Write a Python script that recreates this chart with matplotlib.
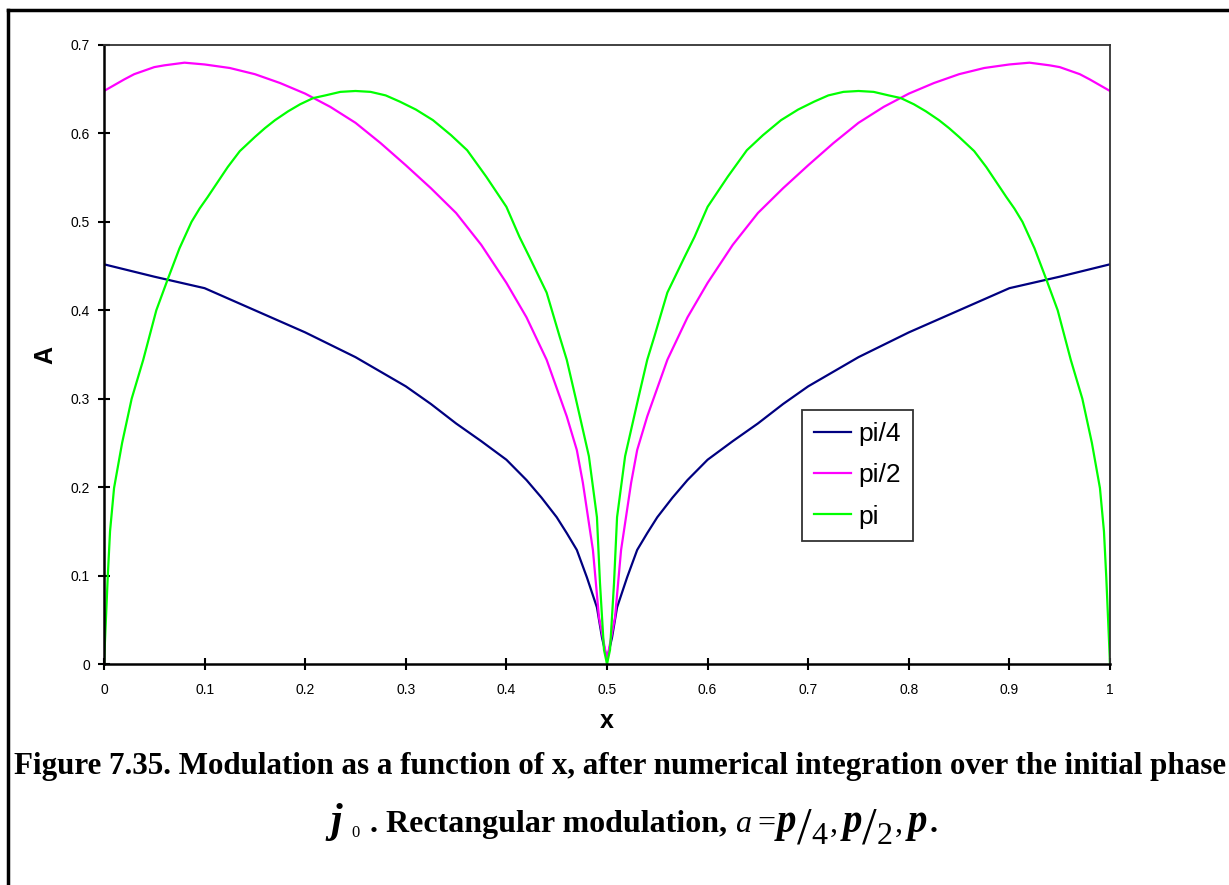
import numpy as np
import matplotlib
matplotlib.use("Agg")
import matplotlib.pyplot as plt
from matplotlib.lines import Line2D

plt.rcParams["font.family"] = ["Liberation Sans", "DejaVu Sans"]

# Modulation A versus x on the half interval 0..0.5 (curves are symmetric about x = 0.5)
x_pi4 = [0, 0.05, 0.1, 0.15, 0.2, 0.25, 0.3, 0.325, 0.35, 0.375, 0.4, 0.42, 0.435, 0.45, 0.46,
         0.47, 0.48, 0.49, 0.495, 0.5]
a_pi4 = [0.452, 0.438, 0.425, 0.400, 0.375, 0.347, 0.314, 0.294, 0.272, 0.252, 0.231, 0.208,
         0.188, 0.166, 0.148, 0.129, 0.098, 0.064, 0.030, 0.005]

x_pi2 = [0, 0.02, 0.03, 0.05, 0.06, 0.08, 0.1, 0.125, 0.15, 0.175, 0.2, 0.225, 0.25, 0.275, 0.3,
         0.325, 0.35, 0.375, 0.4, 0.42, 0.44, 0.46, 0.47, 0.476, 0.486, 0.492, 0.5]
a_pi2 = [0.648, 0.661, 0.667, 0.675, 0.677, 0.680, 0.678, 0.674, 0.667, 0.657, 0.645, 0.630,
         0.612, 0.589, 0.564, 0.538, 0.510, 0.474, 0.431, 0.392, 0.344, 0.280, 0.242, 0.205,
         0.129, 0.053, 0.005]

x_pi = [0, 0.0015, 0.0037, 0.006, 0.01, 0.018, 0.0275, 0.039, 0.052, 0.063, 0.075, 0.087, 0.095,
        0.103, 0.113, 0.123, 0.135, 0.15, 0.16, 0.17, 0.183, 0.195, 0.208, 0.22, 0.235, 0.25,
        0.265, 0.28, 0.294, 0.31, 0.327, 0.345, 0.361, 0.38, 0.4, 0.413, 0.423, 0.44, 0.453,
        0.46, 0.469, 0.482, 0.49, 0.493, 0.497, 0.5]
a_pi = [0, 0.040, 0.098, 0.150, 0.199, 0.250, 0.300, 0.344, 0.400, 0.434, 0.470, 0.500, 0.515,
        0.528, 0.545, 0.562, 0.580, 0.596, 0.606, 0.615, 0.625, 0.633, 0.640, 0.643, 0.647,
        0.648, 0.647, 0.643, 0.636, 0.627, 0.615, 0.598, 0.581, 0.551, 0.517, 0.483, 0.460,
        0.420, 0.370, 0.344, 0.300, 0.235, 0.166, 0.092, 0.016, 0.0]

series_labels = ["pi/4", "pi/2", "pi"]
series_colors = ["#000080", "#FF00FF", "#00FF00"]
x_ticks = [0, 0.1, 0.2, 0.3, 0.4, 0.5, 0.6, 0.7, 0.8, 0.9, 1]
y_ticks = [0, 0.1, 0.2, 0.3, 0.4, 0.5, 0.6, 0.7]

W, H = 1229, 885


def full_range(xs, ys):
    """Extend a half-interval curve to 0..1 using the symmetry about x = 0.5."""
    xs = np.asarray(xs, dtype=float)
    ys = np.asarray(ys, dtype=float)
    return (np.concatenate([xs, 1.0 - xs[::-1][1:]]),
            np.concatenate([ys, ys[::-1][1:]]))


fig = plt.figure(figsize=(W / 100, H / 100), dpi=100)
ax = fig.add_axes([104 / W, 1 - 664 / H, (1110 - 104) / W, (664 - 45) / H])

for (xs, ys), lab, col in zip([(x_pi4, a_pi4), (x_pi2, a_pi2), (x_pi, a_pi)],
                              series_labels, series_colors):
    fx, fy = full_range(xs, ys)
    ax.plot(fx, fy, color=col, lw=1.6, label=lab, solid_joinstyle="round")

ax.set_xlim(0, 1)
ax.set_ylim(0, 0.7)
ax.set_xticks(x_ticks)
ax.set_xticklabels([f"{t:g}" for t in x_ticks])
ax.set_yticks(y_ticks)
ax.set_yticklabels([f"{t:g}" for t in y_ticks])
ax.tick_params(axis="both", direction="inout", length=8, width=1.5, labelsize=10,
               colors="black")
ax.tick_params(axis="x", pad=10)
ax.tick_params(axis="y", pad=6)

for side in ("left", "bottom"):
    ax.spines[side].set_linewidth(1.8)
    ax.spines[side].set_color("black")
for side in ("top", "right"):
    ax.spines[side].set_linewidth(1.3)
    ax.spines[side].set_color("#333333")

ax.set_xlabel("x", fontsize=18, fontweight="bold", labelpad=8)
ax.set_ylabel("A", fontsize=18, fontweight="bold", va="center")
ax.yaxis.set_label_coords((45 - 104) / 1006, 0.5)

leg = ax.legend(loc="upper left", bbox_to_anchor=((802 - 104) / 1006, (664 - 410) / 619),
                prop={"size": 19}, frameon=True, fancybox=False, handlelength=1.4,
                handletextpad=0.3, borderpad=0.45, labelspacing=0.66, borderaxespad=0)
leg.get_frame().set_edgecolor("black")
leg.get_frame().set_linewidth(1.3)
for h in leg.get_lines():
    h.set_linewidth(1.6)

# Caption, first line
serif = "Liberation Serif"
cap_size = 22.3
fig.text(620 / W, 1 - 774 / H,
         "Figure 7.35. Modulation as a function of x, after numerical integration over the initial phase",
         ha="center", va="baseline", fontsize=cap_size, fontweight="bold", family=serif)

# Caption, second line: pieces laid out left to right on one baseline
# (text, size, weight, style, vertical shift in px, gap after in px)
line2_size = 23
pieces = [
    ("j", 30, "bold", "italic", 0, 10),
    ("0", 12, "normal", "normal", -5, 10),
    (".", line2_size, "bold", "normal", 0, 8),
    ("Rectangular modulation,", line2_size, "bold", "normal", 0, 8),
    ("a", line2_size, "normal", "italic", 0, 6),
    ("=", line2_size, "normal", "normal", 0, 2),
    ("p", 28, "bold", "italic", 0, 0),
    ("/", 38, "normal", "normal", -11, 0),
    ("4", line2_size, "normal", "normal", -12, 2),
    (",", line2_size, "normal", "normal", 0, 5),
    ("p", 28, "bold", "italic", 0, 0),
    ("/", 38, "normal", "normal", -11, 0),
    ("2", line2_size, "normal", "normal", -12, 2),
    (",", line2_size, "normal", "normal", 0, 5),
    ("p", 28, "bold", "italic", 0, 3),
    (".", line2_size, "bold", "normal", 0, 0),
]
renderer = fig.canvas.get_renderer()
baseline_px = 832
items = []
for s, size, weight, style, dy, gap in pieces:
    t = fig.text(0, 1 - (baseline_px - dy) / H, s, ha="left", va="baseline", fontsize=size,
                 fontweight=weight, fontstyle=style, family=serif)
    w = t.get_window_extent(renderer).width
    items.append((t, w, gap))
total = sum(w + g for _, w, g in items)
cursor = 634 - total / 2
for t, w, gap in items:
    t.set_x(cursor / W)
    cursor += w + gap

# Page frame on the left and top
fig.add_artist(Line2D([8 / W, 8 / W], [0, 1 - 10 / H], transform=fig.transFigure,
                      color="black", lw=2.5, solid_capstyle="projecting"))
fig.add_artist(Line2D([8 / W, 1], [1 - 10 / H, 1 - 10 / H], transform=fig.transFigure,
                      color="black", lw=2.5, solid_capstyle="projecting"))

fig.savefig("out.png", dpi=100, facecolor="white")
